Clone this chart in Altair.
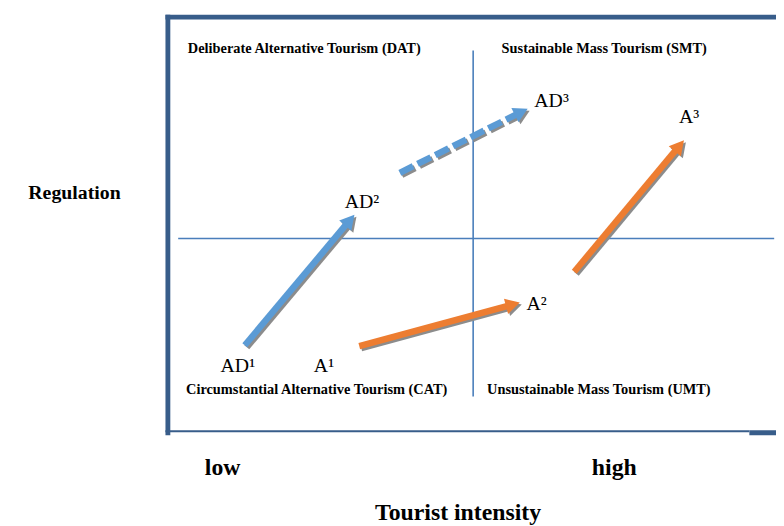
import math
import altair as alt
import pandas as pd

# ---- data space: x = tourist intensity (0-100), y = regulation (0-100) ----
W, H = 612, 415  # plot area size in px

# quadrant labels
quad_labels = ["Deliberate Alternative Tourism (DAT)", "Sustainable Mass Tourism (SMT)",
               "Circumstantial Alternative Tourism (CAT)", "Unsustainable Mass Tourism (UMT)"]
quad_x = [2.9, 54.7, 2.6, 52.3]
quad_y = [91.8, 91.8, 8.9, 8.9]

# point labels
point_labels = ["AD¹", "A¹", "AD²", "A²", "AD³", "A³"]
point_x = [8.3, 23.7, 28.8, 58.8, 60.1, 84.0]
point_y = [14.2, 14.2, 54.2, 29.2, 78.6, 74.7]

# arrows (tail -> tip)
arrow_names = ["AD1-AD2", "AD2-AD3", "A1-A2", "A2-A3"]
arrow_x0 = [12.3, 37.9, 31.2, 66.7]
arrow_y0 = [20.7, 62.7, 20.5, 38.6]
arrow_x1 = [30.4, 59.0, 57.7, 84.8]
arrow_y1 = [52.5, 78.3, 31.1, 70.6]
arrow_group = ["AD", "AD", "A", "A"]
arrow_style = ["solid", "dashed", "solid", "solid"]

# quadrant dividers
divider_x = 50.0
divider_y_range = [8.2, 92.5]
divider_y = 46.7
divider_x_range = [1.3, 99.7]

# outer texts
axis_texts = ["Regulation", "low", "high", "Tourist intensity"]
axis_x = [-8.2, 5.7, 69.6, 33.8]
axis_y = [56.4, -10.8, -10.8, -21.9]
axis_align = ["right", "left", "left", "left"]
axis_size = [20, 24, 24, 24]

# frame pieces (x, x2, y, y2)
frame_x = [-0.8, -0.8, -0.8, 95.6]
frame_x2 = [103.0, 0.0, 95.6, 103.0]
frame_y = [100.0, -1.2, 0.0, 0.0]
frame_y2 = [101.2, 101.2, -0.5, -1.2]

# ---- derived tables ----
def px_to_dx(p):
    return p * 100.0 / W

def px_to_dy(p):
    return p * 100.0 / H

HEAD_R = 8.0
HEAD_LEN = 1.8 * HEAD_R
SH = 2.0  # shadow offset px

rows = []
for n, x0, y0, x1, y1, g, s in zip(arrow_names, arrow_x0, arrow_y0, arrow_x1, arrow_y1,
                                   arrow_group, arrow_style):
    dxp = (x1 - x0) * W / 100.0
    dyp = (y1 - y0) * H / 100.0
    L = math.hypot(dxp, dyp)
    ux, uy = dxp / L, dyp / L
    back = HEAD_LEN * 0.8
    xe = x1 - px_to_dx(ux * back)
    ye = y1 - px_to_dy(uy * back)
    ang = math.degrees(math.atan2(ux, uy)) % 360
    rows.append(dict(name=n, group=g, style=s, x0=x0, y0=y0, xe=xe, ye=ye,
                     x1=x1, y1=y1, angle=ang,
                     sx0=x0 + px_to_dx(SH), sy0=y0 - px_to_dy(SH),
                     sxe=xe + px_to_dx(SH), sye=ye - px_to_dy(SH),
                     sx1=x1 + px_to_dx(SH), sy1=y1 - px_to_dy(SH)))
arrows = pd.DataFrame(rows)

xs = alt.Scale(domain=[0, 100], nice=False, zero=False)
ys = alt.Scale(domain=[0, 100], nice=False, zero=False)
color_scale = alt.Scale(domain=["AD", "A"], range=["#5B9BD5", "#ED7D31"])

FRAME = "#385D8A"
LINE = "#4A7EBB"
SHADOW = "#8c8c8c"
SERIF = "Liberation Serif"

frame_df = pd.DataFrame(dict(x=frame_x, x2=frame_x2, y=frame_y, y2=frame_y2))
frame = alt.Chart(frame_df).mark_rect(color=FRAME).encode(
    x=alt.X("x:Q", scale=xs, axis=None), x2="x2:Q",
    y=alt.Y("y:Q", scale=ys, axis=None), y2="y2:Q")

vline = alt.Chart(pd.DataFrame(dict(x=[divider_x], y=[divider_y_range[0]], y2=[divider_y_range[1]]))).mark_rule(
    color=LINE, strokeWidth=1.6).encode(
    x=alt.X("x:Q", scale=xs, axis=None), y=alt.Y("y:Q", scale=ys, axis=None), y2="y2:Q")
hline = alt.Chart(pd.DataFrame(dict(y=[divider_y], x=[divider_x_range[0]], x2=[divider_x_range[1]]))).mark_rule(
    color=LINE, strokeWidth=1.6).encode(
    y=alt.Y("y:Q", scale=ys, axis=None), x=alt.X("x:Q", scale=xs, axis=None), x2="x2:Q")

base = alt.Chart(arrows)
HEAD_PATH = "M0,0L-1,1.8L1,1.8Z"
HEAD_SIZE = (2 * HEAD_R) ** 2


def shaft(data_filter, dash, shadow):
    xf, yf, x2f, y2f = ("sx0", "sy0", "sxe", "sye") if shadow else ("x0", "y0", "xe", "ye")
    kw = dict(strokeWidth=6.5, strokeCap="butt")
    if dash:
        kw["strokeDash"] = [15, 5]
    if shadow:
        m = alt.Chart(arrows).mark_rule(color=SHADOW, **kw)
        enc = {}
    else:
        m = alt.Chart(arrows).mark_rule(**kw)
        enc = dict(color=alt.Color("group:N", scale=color_scale, legend=None))
    return m.encode(
        x=alt.X(f"{xf}:Q", scale=xs, axis=None), y=alt.Y(f"{yf}:Q", scale=ys, axis=None),
        x2=f"{x2f}:Q", y2=f"{y2f}:Q", **enc).transform_filter(data_filter)


def heads(shadow):
    xf, yf = ("sx1", "sy1") if shadow else ("x1", "y1")
    if shadow:
        m = base.mark_point(shape=HEAD_PATH, filled=True, size=HEAD_SIZE, color=SHADOW,
                            opacity=1, strokeWidth=0)
        enc = {}
    else:
        m = base.mark_point(shape=HEAD_PATH, filled=True, size=HEAD_SIZE, opacity=1, strokeWidth=0)
        enc = dict(color=alt.Color("group:N", scale=color_scale, legend=None))
    return m.encode(
        x=alt.X(f"{xf}:Q", scale=xs, axis=None), y=alt.Y(f"{yf}:Q", scale=ys, axis=None),
        angle=alt.Angle("angle:Q", scale=None), **enc)


solid = alt.datum.style == "solid"
dashed = alt.datum.style == "dashed"

layers = [frame, vline, hline,
          shaft(solid, False, True), shaft(dashed, True, True), heads(True),
          shaft(solid, False, False), shaft(dashed, True, False), heads(False)]

quad_df = pd.DataFrame(dict(label=quad_labels, x=quad_x, y=quad_y))
layers.append(alt.Chart(quad_df).mark_text(font=SERIF, fontSize=14.5, fontWeight="bold",
                                           align="left", baseline="alphabetic", color="#000000").encode(
    x=alt.X("x:Q", scale=xs, axis=None), y=alt.Y("y:Q", scale=ys, axis=None), text="label:N"))

pt_df = pd.DataFrame(dict(label=point_labels, x=point_x, y=point_y))
layers.append(alt.Chart(pt_df).mark_text(font=SERIF, fontSize=20, align="left",
                                         baseline="alphabetic", color="#000000").encode(
    x=alt.X("x:Q", scale=xs, axis=None), y=alt.Y("y:Q", scale=ys, axis=None), text="label:N"))

for t, x, y, a, s in zip(axis_texts, axis_x, axis_y, axis_align, axis_size):
    d = pd.DataFrame(dict(label=[t], x=[x], y=[y]))
    layers.append(alt.Chart(d).mark_text(font=SERIF, fontSize=s, fontWeight="bold", align=a,
                                         baseline="alphabetic", color="#000000").encode(
        x=alt.X("x:Q", scale=xs, axis=None), y=alt.Y("y:Q", scale=ys, axis=None), text="label:N"))

chart = alt.layer(*layers).properties(
    width=W, height=H, autosize="none",
    padding={"left": 164, "top": 9, "right": 0, "bottom": 94},
    background="#ffffff",
).configure_view(stroke=None)

chart.save("out.html", embed_options={"renderer": "svg", "actions": False})
